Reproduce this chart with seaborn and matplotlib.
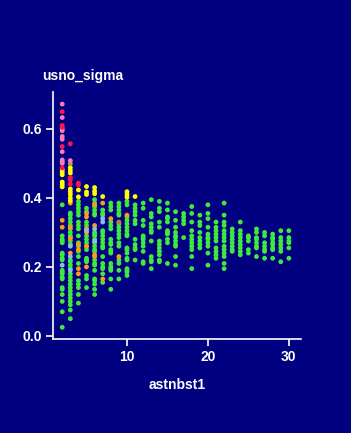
import pandas as pd
import matplotlib.pyplot as plt
import seaborn as sns

# astnbst1 values (one column of points per value)
astnbst = [2, 3, 4, 5, 6, 7, 8, 9, 10, 11, 12, 13, 14, 15, 16,
           17, 18, 19, 20, 21, 22, 23, 24, 25, 26, 27, 28, 29, 30]

# usno_sigma of the green (majority) points, one list per astnbst1 value
green_sigma = [
    [0.38, 0.29, 0.28, 0.275, 0.27, 0.24, 0.235, 0.225, 0.22, 0.19, 0.185, 0.18,
     0.17, 0.165, 0.14, 0.135, 0.12, 0.10, 0.07, 0.025],
    [0.356, 0.35, 0.34, 0.33, 0.32, 0.31, 0.30, 0.29, 0.285, 0.275, 0.265, 0.22,
     0.215, 0.205, 0.195, 0.18, 0.17, 0.16, 0.15, 0.14, 0.13, 0.12, 0.11, 0.10,
     0.09, 0.075, 0.05],
    [0.39, 0.38, 0.37, 0.36, 0.35, 0.33, 0.32, 0.31, 0.29, 0.27, 0.26, 0.245,
     0.23, 0.21, 0.16, 0.15, 0.14, 0.12, 0.095],
    [0.37, 0.36, 0.33, 0.32, 0.31, 0.29, 0.28, 0.27, 0.26, 0.25, 0.225, 0.22,
     0.215, 0.175, 0.165, 0.14],
    [0.395, 0.385, 0.375, 0.365, 0.355, 0.35, 0.30, 0.295, 0.29, 0.28, 0.27,
     0.26, 0.25, 0.245, 0.22, 0.21, 0.205, 0.19, 0.165, 0.16, 0.15, 0.135, 0.12],
    [0.365, 0.355, 0.35, 0.305, 0.30, 0.29, 0.28, 0.27, 0.26, 0.255, 0.23, 0.21,
     0.20, 0.195, 0.18, 0.155],
    [0.385, 0.375, 0.365, 0.33, 0.32, 0.31, 0.28, 0.27, 0.265, 0.25, 0.245, 0.24,
     0.21, 0.20, 0.195, 0.19, 0.165, 0.135],
    [0.385, 0.375, 0.365, 0.355, 0.35, 0.325, 0.315, 0.305, 0.295, 0.285, 0.27,
     0.26, 0.22, 0.21, 0.19, 0.165],
    [0.39, 0.38, 0.345, 0.335, 0.325, 0.315, 0.305, 0.295, 0.29, 0.255, 0.25,
     0.24, 0.225, 0.22, 0.195, 0.19, 0.185, 0.175],
    [0.38, 0.37, 0.36, 0.35, 0.335, 0.325, 0.28, 0.265, 0.255, 0.25, 0.22],
    [0.385, 0.37, 0.335, 0.32, 0.29, 0.285, 0.28, 0.27, 0.26, 0.245, 0.215, 0.21],
    [0.395, 0.355, 0.345, 0.325, 0.315, 0.305, 0.30, 0.275, 0.23, 0.22, 0.215, 0.195],
    [0.39, 0.37, 0.36, 0.33, 0.315, 0.275, 0.265, 0.255, 0.245, 0.235, 0.22, 0.215],
    [0.385, 0.365, 0.345, 0.34, 0.33, 0.305, 0.30, 0.295, 0.28, 0.27, 0.21],
    [0.36, 0.335, 0.315, 0.30, 0.29, 0.285, 0.275, 0.265, 0.26, 0.23, 0.205],
    [0.355, 0.345, 0.335, 0.325, 0.285],
    [0.375, 0.355, 0.33, 0.305, 0.29, 0.28, 0.27, 0.26, 0.25, 0.23, 0.195],
    [0.35, 0.33, 0.32, 0.30, 0.285, 0.275, 0.265, 0.255],
    [0.38, 0.355, 0.34, 0.315, 0.295, 0.285, 0.28, 0.27, 0.26, 0.24, 0.205],
    [0.33, 0.315, 0.305, 0.295, 0.285, 0.275, 0.255, 0.245, 0.235, 0.225],
    [0.385, 0.35, 0.33, 0.32, 0.305, 0.295, 0.285, 0.275, 0.26, 0.25, 0.24, 0.23,
     0.21, 0.195],
    [0.31, 0.30, 0.29, 0.28, 0.27, 0.26, 0.25, 0.245],
    [0.33, 0.305, 0.295, 0.285, 0.275, 0.265, 0.255, 0.245, 0.235],
    [0.29, 0.285, 0.275, 0.25, 0.24],
    [0.31, 0.30, 0.285, 0.28, 0.27, 0.26, 0.255, 0.23],
    [0.30, 0.29, 0.27, 0.26, 0.25, 0.245, 0.225],
    [0.295, 0.285, 0.28, 0.27, 0.265, 0.255, 0.25, 0.225],
    [0.305, 0.285, 0.275, 0.265, 0.255, 0.245, 0.215],
    [0.305, 0.285, 0.275, 0.27, 0.255, 0.225],
]

# the few coloured outliers
orange_x = [2, 2, 3, 3, 3, 3, 4, 4, 4, 4, 5, 5, 5, 5, 5, 5, 6, 6, 6, 6, 7, 7, 8, 9, 10]
orange_y = [0.335, 0.315, 0.385, 0.315, 0.283, 0.24, 0.265, 0.25, 0.195, 0.18,
            0.355, 0.345, 0.31, 0.30, 0.26, 0.20, 0.38, 0.32, 0.235, 0.23,
            0.385, 0.165, 0.34, 0.23, 0.35]
blue_x = [2, 3, 3, 3, 5, 6, 6, 7, 7]
blue_y = [0.205, 0.26, 0.23, 0.19, 0.305, 0.31, 0.275, 0.34, 0.33]
brown_x = [9]
brown_y = [0.33]
yellow_x = [2, 2, 2, 2, 2, 2, 3, 3, 3, 3, 3, 3, 3, 3, 4, 4, 5, 5, 5, 6, 6, 6,
            7, 10, 10, 10, 11]
yellow_y = [0.481, 0.474, 0.467, 0.446, 0.439, 0.432, 0.488, 0.48, 0.472, 0.426,
            0.418, 0.41, 0.40, 0.392, 0.423, 0.403, 0.433, 0.417, 0.41, 0.43,
            0.42, 0.412, 0.404, 0.418, 0.41, 0.402, 0.404]
olive_x = [3]
olive_y = [0.499]
pink_x = [2, 2, 2, 2, 2, 2, 2, 2, 2, 2, 3]
pink_y = [0.672, 0.633, 0.60, 0.595, 0.578, 0.57, 0.534, 0.51, 0.505, 0.50, 0.508]
red_x = [2, 2, 2, 2, 2, 3, 3, 3, 3, 4, 4]
red_y = [0.65, 0.61, 0.605, 0.549, 0.487, 0.557, 0.459, 0.452, 0.44, 0.443, 0.438]

colours = {'green': '#3dea3d', 'orange': '#ff9a1a', 'blue': '#8cbcf0',
           'brown': '#c8783c', 'yellow': '#ffff00', 'olive': '#a0b040',
           'pink': '#ff78b8', 'red': '#ff1450'}

rows = []
for n, ys in zip(astnbst, green_sigma):
    for v in ys:
        rows.append((n, v, 'green'))
for name, xs, ys in [('orange', orange_x, orange_y), ('blue', blue_x, blue_y),
                     ('brown', brown_x, brown_y), ('yellow', yellow_x, yellow_y),
                     ('olive', olive_x, olive_y), ('pink', pink_x, pink_y),
                     ('red', red_x, red_y)]:
    for n, v in zip(xs, ys):
        rows.append((n, v, name))
df = pd.DataFrame(rows, columns=['astnbst1', 'usno_sigma', 'cls'])

navy = '#000080'
sns.set_style('dark')
plt.rcParams['font.family'] = ['Liberation Sans', 'DejaVu Sans']

fig = plt.figure(figsize=(3.51, 4.33), dpi=100, facecolor=navy)
ax = fig.add_axes([53 / 351, 1 - 339 / 433, 248 / 351, 247 / 433])
ax.set_facecolor(navy)

sns.scatterplot(data=df, x='astnbst1', y='usno_sigma', hue='cls', palette=colours,
                legend=False, s=12, linewidth=0, ax=ax)

ax.set_xlim(0.86, 31.5)
ax.set_ylim(-0.009, 0.707)
ax.set_xticks([10, 20, 30])
ax.set_yticks([0.0, 0.2, 0.4, 0.6])
ax.set_yticklabels(['0.0', '0.2', '0.4', '0.6'])
ax.grid(False)
for side in ['top', 'right']:
    ax.spines[side].set_visible(False)
for side in ['left', 'bottom']:
    ax.spines[side].set_color('white')
    ax.spines[side].set_linewidth(1.2)
ax.tick_params(colors='white', length=5, width=1.2, direction='out',
               labelsize=10, pad=3, left=True, bottom=True)
for lab in ax.get_xticklabels() + ax.get_yticklabels():
    lab.set_fontweight('bold')

ax.set_xlabel('astnbst1', color='white', fontsize=10, fontweight='bold', labelpad=10)
ax.set_ylabel('')
fig.text(42 / 351, 1 - 76 / 433, 'usno_sigma', color='white', fontsize=10,
         fontweight='bold', va='center', ha='left')

plt.savefig('out.png', dpi=100, facecolor=navy)
